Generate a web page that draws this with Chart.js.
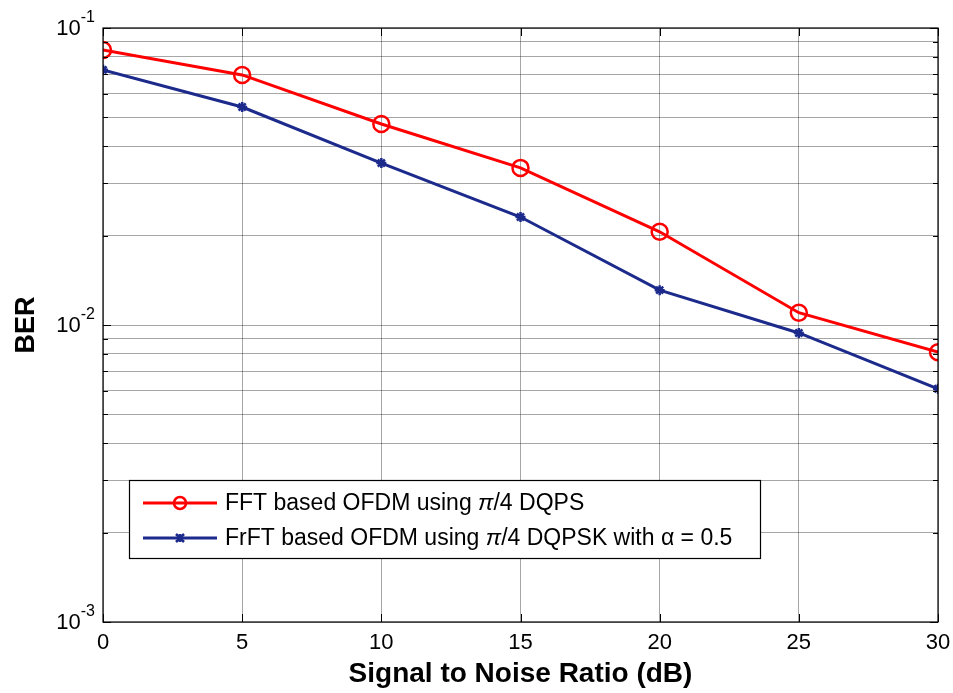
<!DOCTYPE html>
<html>
<head>
<meta charset="utf-8">
<script src="https://cdn.jsdelivr.net/npm/chart.js"></script>
<style>
  html, body { margin: 0; padding: 0; background: #fff; }
  #wrap { width: 953px; height: 693px; }
</style>
</head>
<body>
<div id="wrap"><canvas id="c" width="953" height="693"></canvas></div>
<script>
// Datos
const snr = [0, 5, 10, 15, 20, 25, 30];
const berFFT = [0.0843, 0.0695, 0.0475, 0.0338, 0.0206, 0.0110, 0.0081];
const berFrFT = [0.0723, 0.0542, 0.0351, 0.0231, 0.0131, 0.0094, 0.0061];
const yDecades = [-3, -2, -1];
const mantissas = [1, 2, 3, 4, 5, 6, 7, 8, 9];
const xTicks = [0, 5, 10, 15, 20, 25, 30];
const legendLabels = ['FFT based OFDM using \u03C0/4 DQPS', 'FrFT based OFDM using \u03C0/4 DQPSK with \u03B1 = 0.5'];

const RED = '#ff0000';
const BLUE = '#1c2a8c';
const FONT = '"Liberation Sans", Arial, sans-serif';

// ticks del eje log: 1..9 x 10^k
const yTickValues = [];
yDecades.forEach((d, i) => {
  if (i < yDecades.length - 1) {
    mantissas.forEach(m => yTickValues.push(+(m * Math.pow(10, d)).toPrecision(3)));
  } else {
    yTickValues.push(Math.pow(10, d));
  }
});

// texto con la letra pi en cursiva (como Symbol en MATLAB)
function drawRich(ctx, text, x, y, size) {
  const parts = text.split(/(\u03C0)/);
  parts.forEach(p => {
    if (!p) return;
    ctx.font = (p === '\u03C0' ? 'italic ' : '') + size + 'px ' + FONT;
    ctx.fillText(p, x, y);
    x += ctx.measureText(p).width;
  });
}

// marco, ticks interiores, etiquetas 10^k y leyenda
const matlabAxes = {
  id: 'matlabAxes',
  afterDraw(chart) {
    const ctx = chart.ctx;
    const a = chart.chartArea;
    const ys = chart.scales.y, xs = chart.scales.x;
    ctx.save();
    ctx.strokeStyle = '#000';
    ctx.lineWidth = 1.2;
    ctx.strokeRect(a.left, a.top, a.right - a.left, a.bottom - a.top);

    // ticks interiores en y
    ctx.lineWidth = 1;
    yTickValues.forEach(v => {
      const y = Math.round(ys.getPixelForValue(v)) + 0.5;
      const major = Math.abs(Math.log10(v) - Math.round(Math.log10(v))) < 1e-6;
      const len = major ? 8 : 5;
      ctx.beginPath();
      ctx.moveTo(a.left, y); ctx.lineTo(a.left + len, y);
      ctx.moveTo(a.right, y); ctx.lineTo(a.right - len, y);
      ctx.stroke();
    });
    // ticks interiores en x
    xTicks.forEach(v => {
      const x = Math.round(xs.getPixelForValue(v)) + 0.5;
      ctx.beginPath();
      ctx.moveTo(x, a.bottom); ctx.lineTo(x, a.bottom - 8);
      ctx.moveTo(x, a.top); ctx.lineTo(x, a.top + 8);
      ctx.stroke();
    });

    // etiquetas 10^k
    ctx.fillStyle = '#000';
    ctx.textBaseline = 'middle';
    yDecades.forEach(d => {
      const y = ys.getPixelForValue(Math.pow(10, d));
      const exp = String(d);
      ctx.font = '16px ' + FONT;
      const ew = ctx.measureText(exp).width;
      const ex = a.left - 8 - ew;
      ctx.textAlign = 'left';
      ctx.fillText(exp, ex, y - 10);
      ctx.font = '22px ' + FONT;
      ctx.textAlign = 'right';
      ctx.fillText('10', ex, y + 1);
    });

    // leyenda
    const bx = 129, by = 480, bw = 631, bh = 78;
    ctx.fillStyle = '#fff';
    ctx.fillRect(bx, by, bw, bh);
    ctx.strokeStyle = '#000';
    ctx.lineWidth = 1.2;
    ctx.strokeRect(bx + 0.5, by + 0.5, bw, bh);
    const rows = [by + 23, by + 58];
    chart.data.datasets.forEach((ds, i) => {
      const y = rows[i];
      ctx.strokeStyle = ds.borderColor;
      ctx.lineWidth = 3;
      ctx.beginPath();
      ctx.moveTo(143, y); ctx.lineTo(217, y);
      ctx.stroke();
      ctx.lineWidth = ds.pointBorderWidth;
      const cx = 180;
      if (ds.pointStyle === 'circle') {
        ctx.beginPath();
        ctx.arc(cx, y, 6, 0, Math.PI * 2);
        ctx.stroke();
      } else {
        const r = 4;
        ctx.beginPath();
        ctx.moveTo(cx - r, y - r); ctx.lineTo(cx + r, y + r);
        ctx.moveTo(cx - r, y + r); ctx.lineTo(cx + r, y - r);
        ctx.moveTo(cx, y - r); ctx.lineTo(cx, y + r);
        ctx.stroke();
      }
      ctx.fillStyle = '#000';
      ctx.textAlign = 'left';
      ctx.textBaseline = 'middle';
      drawRich(ctx, legendLabels[i], 225, y + 1, 23);
    });
    ctx.restore();
  }
};

new Chart(document.getElementById('c').getContext('2d'), {
  type: 'line',
  data: {
    datasets: [
      {
        label: legendLabels[0],
        data: snr.map((x, i) => ({ x: x, y: berFFT[i] })),
        borderColor: RED,
        backgroundColor: 'rgba(0,0,0,0)',
        borderWidth: 3,
        pointStyle: 'circle',
        pointRadius: 8,
        pointBorderWidth: 2.5,
        pointBorderColor: RED,
        pointBackgroundColor: 'rgba(0,0,0,0)',
        tension: 0
      },
      {
        label: legendLabels[1],
        data: snr.map((x, i) => ({ x: x, y: berFrFT[i] })),
        borderColor: BLUE,
        backgroundColor: 'rgba(0,0,0,0)',
        borderWidth: 3,
        pointStyle: 'star',
        pointRadius: 5,
        pointBorderWidth: 2.5,
        pointBorderColor: BLUE,
        pointBackgroundColor: BLUE,
        tension: 0
      }
    ]
  },
  options: {
    responsive: false,
    animation: false,
    layout: { padding: { left: 0, right: 15, top: 28, bottom: 0 } },
    plugins: {
      legend: { display: false },
      tooltip: { enabled: false }
    },
    scales: {
      x: {
        type: 'linear',
        min: 0,
        max: 30,
        afterBuildTicks: s => { s.ticks = xTicks.map(v => ({ value: v })); },
        afterFit: s => { s.height = 71; s.paddingLeft = 0; s.paddingRight = 0; },
        grid: { color: 'rgba(0,0,0,0.35)', lineWidth: 1, drawTicks: false },
        border: { display: false },
        ticks: { color: '#000', font: { family: FONT, size: 22 }, padding: 8, maxRotation: 0 },
        title: {
          display: true,
          text: 'Signal to Noise Ratio (dB)',
          color: '#000',
          font: { family: FONT, size: 28, weight: 'bold' },
          padding: { top: 0, bottom: 2 }
        }
      },
      y: {
        type: 'logarithmic',
        min: 0.001,
        max: 0.1,
        afterBuildTicks: s => { s.ticks = yTickValues.map(v => ({ value: v })); },
        afterFit: s => { s.width = 103; },
        grid: { color: 'rgba(0,0,0,0.35)', lineWidth: 1, drawTicks: false },
        border: { display: false },
        ticks: { display: false },
        title: {
          display: true,
          text: 'BER',
          color: '#000',
          font: { family: FONT, size: 27, weight: 'bold' },
          padding: { top: 10, bottom: 0 }
        }
      }
    }
  },
  plugins: [matlabAxes]
});
</script>
</body>
</html>
